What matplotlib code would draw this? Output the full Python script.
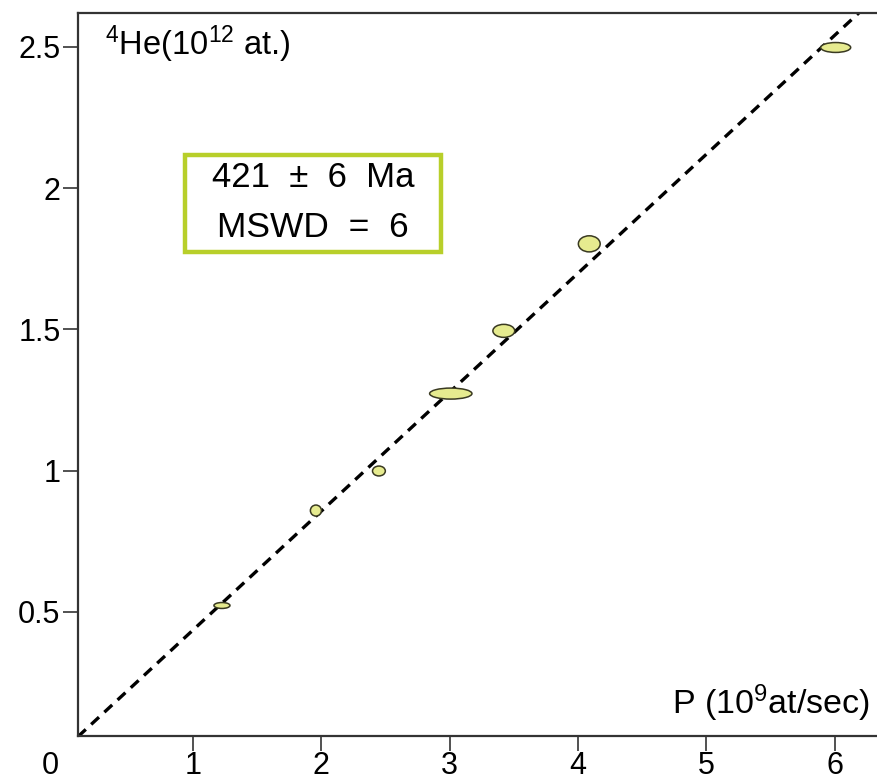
import numpy as np
import matplotlib
matplotlib.use("Agg")
import matplotlib.pyplot as plt
from matplotlib.patches import Ellipse, Rectangle

plt.rcParams['font.family'] = ['Liberation Sans', 'DejaVu Sans']
plt.rcParams['mathtext.fontset'] = 'custom'
plt.rcParams['mathtext.rm'] = 'Liberation Sans'
plt.rcParams['mathtext.default'] = 'regular'

# error ellipses: centre and full width/height (data units)
p_vals = [1.226, 1.958, 2.449, 3.009, 3.422, 4.088, 6.008]
he_vals = [0.523, 0.859, 0.999, 1.273, 1.495, 1.803, 2.498]
p_err = [0.125, 0.086, 0.100, 0.330, 0.170, 0.170, 0.234]
he_err = [0.021, 0.039, 0.035, 0.039, 0.046, 0.057, 0.035]

# isochron
slope = 0.421
intercept = 0.015

x_ticks = [1, 2, 3, 4, 5, 6]
y_ticks = [0.5, 1, 1.5, 2, 2.5]
y_ticklabels = ['0.5', '1', '1.5', '2', '2.5']

fig = plt.figure(figsize=(8.77, 7.84), dpi=100)
ax = fig.add_axes([0.0889, 0.0612, 0.9111, 0.9222])
ax.set_xlim(0.104, 6.33)
ax.set_ylim(0.061, 2.62)

xs = np.array([0.104, 6.33])
ax.plot(xs, slope * xs + intercept, ls=(0, (3.2, 2.2)), color='black', lw=2.4, zorder=2)

for x, y, w, h in zip(p_vals, he_vals, p_err, he_err):
    e = Ellipse((x, y), w, h, facecolor='#e6eb8f', edgecolor='#3a3a22', lw=1.1, zorder=3)
    ax.add_patch(e)

ax.spines['right'].set_visible(False)
for s in ['left', 'bottom', 'top']:
    ax.spines[s].set_linewidth(1.6)
    ax.spines[s].set_color('#333333')

ax.set_xticks(x_ticks)
ax.set_xticklabels([str(t) for t in x_ticks], fontsize=22)
ax.set_yticks(y_ticks)
ax.set_yticklabels(y_ticklabels, fontsize=22)
ax.tick_params(direction='out', length=10.5, width=1.2, color='#333333', pad=2)
ax.tick_params(axis='x', pad=0.5)

ax.text(-0.035, -0.0211, '0', transform=ax.transAxes, fontsize=22,
        ha='center', va='top')

ax.text(0.034, 0.942, r'$^{4}$He(10$^{12}$ at.)', transform=ax.transAxes,
        fontsize=23.5, ha='left', va='baseline')
ax.text(0.991, 0.030, r'P (10$^{9}$at/sec)', transform=ax.transAxes,
        fontsize=24.5, ha='right', va='baseline')

# age box
ax.add_patch(Rectangle((0.134, 0.669), 0.320, 0.135, transform=ax.transAxes,
                       facecolor='white', edgecolor='#b8cf2a', lw=3.2, zorder=4))
ax.text(0.294, 0.773, '421  ±  6  Ma', transform=ax.transAxes, fontsize=25,
        ha='center', va='center', zorder=5)
ax.text(0.294, 0.704, 'MSWD  =  6', transform=ax.transAxes, fontsize=25.5,
        ha='center', va='center', zorder=5)

fig.savefig('out.png', dpi=100)
